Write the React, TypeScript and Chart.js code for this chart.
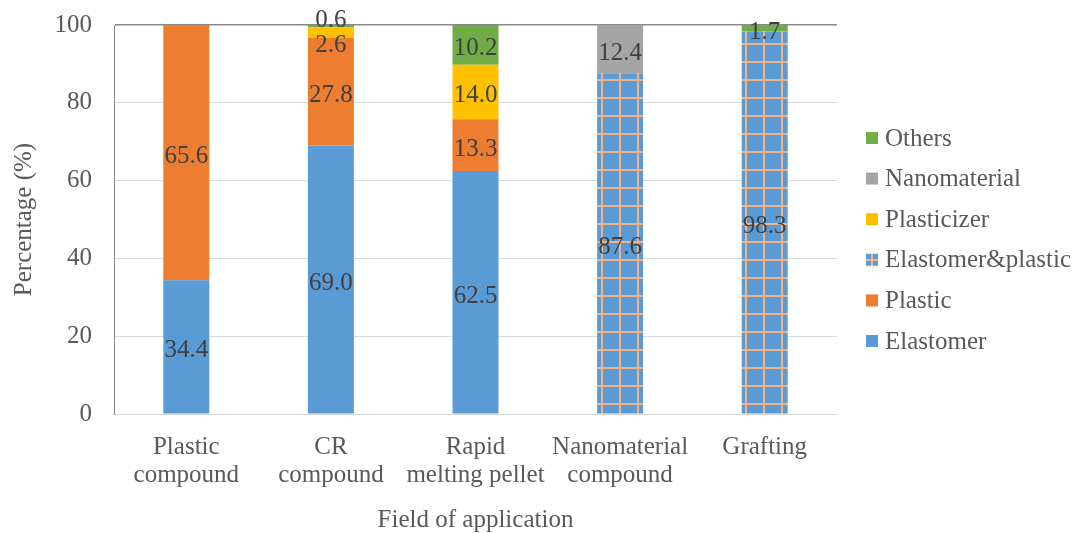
import React, { useEffect, useRef } from "react";
import { Chart, registerables } from "chart.js";

Chart.register(...registerables);

const categories: string[][] = [
  ["Plastic", "compound"],
  ["CR", "compound"],
  ["Rapid", "melting pellet"],
  ["Nanomaterial", "compound"],
  ["Grafting"],
];
const elastomer = [34.4, 69.0, 62.5, 0, 0];
const plastic = [65.6, 27.8, 13.3, 0, 0];
const elastomerPlastic = [0, 0, 0, 87.6, 98.3];
const plasticizer = [0, 2.6, 14.0, 0, 0];
const nanomaterial = [0, 0, 0, 12.4, 0];
const others = [0, 0.6, 10.2, 0, 1.7];
const yTicks = [0, 20, 40, 60, 80, 100];

const FONT = "'Liberation Serif', 'Times New Roman', serif";
const FS = 25;

function makePattern(): CanvasPattern | string {
  const c = document.createElement("canvas");
  c.width = 18;
  c.height = 18;
  const ctx = c.getContext("2d");
  if (!ctx) return "#5B9BD5";
  ctx.fillStyle = "#5B9BD5";
  ctx.fillRect(0, 0, 18, 18);
  ctx.fillStyle = "#F4B183";
  ctx.fillRect(7, 0, 2, 18);
  ctx.fillRect(0, 7, 18, 2);
  const p = ctx.createPattern(c, "repeat");
  return p || "#5B9BD5";
}

export default function App() {
  const ref = useRef<HTMLCanvasElement | null>(null);

  useEffect(() => {
    document.body.style.margin = "0";
    const canvas = ref.current;
    if (!canvas) return;
    const pattern = makePattern();

    const series = [
      { label: "Elastomer", data: elastomer, color: "#5B9BD5" as any },
      { label: "Plastic", data: plastic, color: "#ED7D31" as any },
      { label: "Elastomer&plastic", data: elastomerPlastic, color: pattern as any },
      { label: "Plasticizer", data: plasticizer, color: "#FFC000" as any },
      { label: "Nanomaterial", data: nanomaterial, color: "#A5A5A5" as any },
      { label: "Others", data: others, color: "#70AD47" as any },
    ];

    const labelPlugin = {
      id: "segLabels",
      afterDatasetsDraw(chart: any) {
        const ctx = chart.ctx;
        ctx.save();
        ctx.font = `${FS}px ${FONT}`;
        ctx.fillStyle = "#404040";
        ctx.textAlign = "center";
        ctx.textBaseline = "middle";
        const n = chart.data.labels.length;
        for (let i = 0; i < n; i++) {
          const items: { x: number; y: number; t: string }[] = [];
          chart.data.datasets.forEach((ds: any, di: number) => {
            const v = ds.data[i];
            if (!v) return;
            const bar: any = chart.getDatasetMeta(di).data[i];
            items.push({ x: bar.x, y: (bar.y + bar.base) / 2 + 4, t: v.toFixed(1) });
          });
          items.sort((a, b) => a.y - b.y);
          const minGap = 25;
          for (let k = 0; k < 10; k++) {
            for (let j = 0; j < items.length - 1; j++) {
              const d = items[j + 1].y - items[j].y;
              if (d < minGap) {
                const s = (minGap - d) / 2;
                items[j].y -= s;
                items[j + 1].y += s;
              }
            }
          }
          items.forEach((it) => ctx.fillText(it.t, it.x, it.y));
        }
        ctx.restore();
      },
    };

    const legendPlugin = {
      id: "customLegend",
      afterDraw(chart: any) {
        const ctx = chart.ctx;
        ctx.save();
        ctx.font = `${FS}px ${FONT}`;
        ctx.textBaseline = "middle";
        ctx.textAlign = "left";
        const items = [...series].reverse();
        const x0 = 866;
        const y0 = 138;
        const step = 40.6;
        items.forEach((s, i) => {
          const y = y0 + i * step;
          ctx.fillStyle = s.color;
          ctx.fillRect(x0, y - 6, 12, 12);
          ctx.fillStyle = "#595959";
          ctx.fillText(s.label, x0 + 19, y + 1);
        });
        ctx.restore();
      },
    };

    const chart = new Chart(canvas, {
      type: "bar",
      data: {
        labels: categories as any,
        datasets: series.map((s) => ({
          label: s.label,
          data: s.data,
          backgroundColor: s.color,
          borderWidth: 0,
          categoryPercentage: 1,
          barPercentage: 0.318,
        })),
      },
      options: {
        animation: false,
        responsive: false,
        maintainAspectRatio: false,
        layout: { padding: { left: 0, top: 25, right: 1075 - 837, bottom: 0 } },
        plugins: {
          legend: { display: false },
          tooltip: { enabled: false },
        },
        scales: {
          x: {
            stacked: true,
            grid: { display: false, drawTicks: false },
            border: { display: true, color: "#D9D9D9", width: 1 },
            ticks: {
              color: "#595959",
              font: { family: FONT, size: FS, lineHeight: 1.12 },
              padding: 19,
              maxRotation: 0,
              autoSkip: false,
            },
            title: {
              display: true,
              text: "Field of application",
              color: "#595959",
              font: { family: FONT, size: FS, lineHeight: 1.0 },
              padding: { top: 0, bottom: 0 },
            },
            afterFit(scale: any) {
              scale.height = 533 - 414;
              scale.paddingLeft = 0;
              scale.paddingRight = 0;
            },
          },
          y: {
            stacked: true,
            min: 0,
            max: 100,
            afterBuildTicks(scale: any) {
              scale.ticks = yTicks.map((v) => ({ value: v }));
            },
            grid: {
              drawTicks: false,
              color: (c: any) => (c.tick && c.tick.value === 100 ? "#898989" : "#D9D9D9"),
              lineWidth: (c: any) => (c.tick && c.tick.value === 100 ? 1.5 : 1),
            },
            border: { display: true, color: "#898989", width: 1 },
            ticks: {
              color: "#595959",
              font: { family: FONT, size: FS },
              padding: 22,
            },
            title: {
              display: true,
              text: "Percentage (%)",
              color: "#595959",
              font: { family: FONT, size: FS },
              padding: { top: 9, bottom: 0 },
            },
            afterFit(scale: any) {
              scale.width = 114;
              scale.paddingTop = 0;
              scale.paddingBottom = 0;
            },
          },
        },
      },
      plugins: [labelPlugin, legendPlugin],
    });

    return () => chart.destroy();
  }, []);

  return (
    <div style={{ position: "relative", width: 1075, height: 533 }}>
      <canvas ref={ref} width={1075} height={533} style={{ display: "block" }} />
    </div>
  );
}
